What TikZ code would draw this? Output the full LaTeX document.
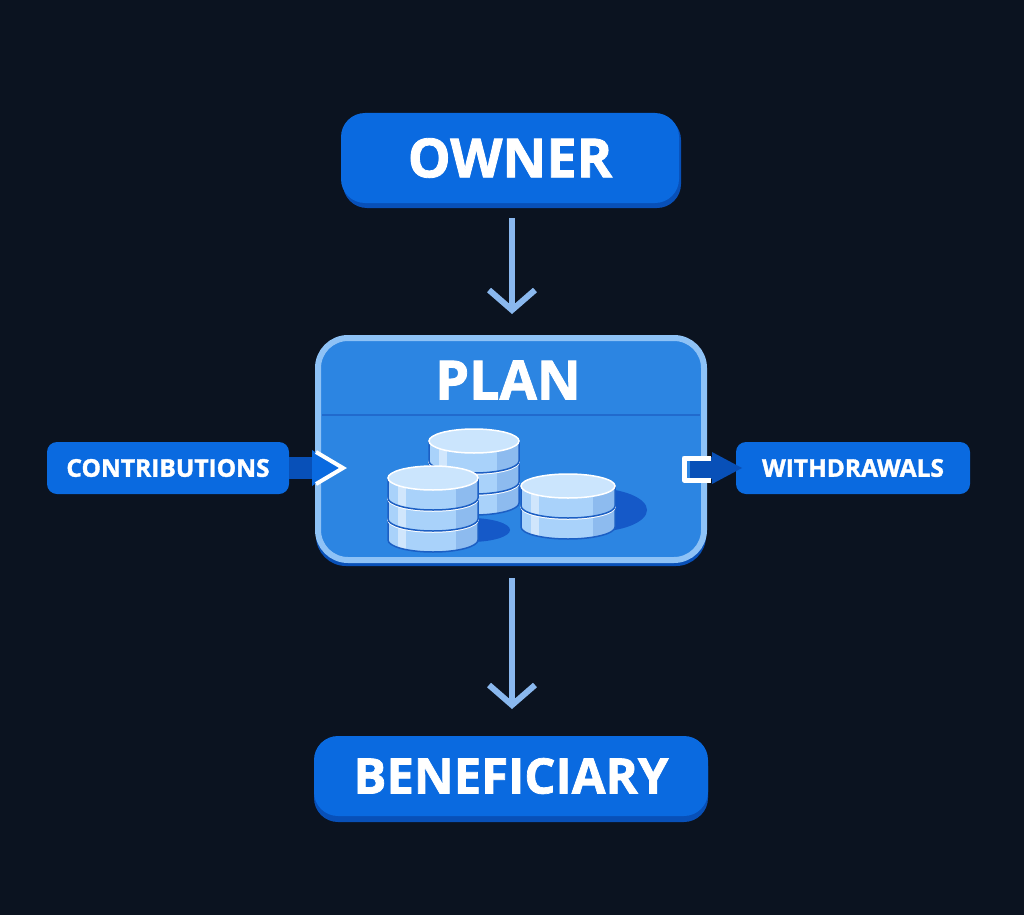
\documentclass[tikz,border=0pt]{standalone}
\usepackage{fontspec}
\setmainfont{Open Sans}[BoldFeatures={FakeBold=1.5}]
\usetikzlibrary{arrows.meta}
\definecolor{bg}{HTML}{0B1320}
\definecolor{boxblue}{HTML}{0A6AE0}
\definecolor{boxdark}{HTML}{0850B8}
\definecolor{planfill}{HTML}{2C85E2}
\definecolor{planedge}{HTML}{8EC2F6}
\definecolor{arrowlight}{HTML}{8AB8EE}
\definecolor{coinside}{HTML}{A9D2FA}
\definecolor{cointop}{HTML}{CBE5FD}
\definecolor{coinline}{HTML}{1C5FC4}
\definecolor{shadowblue}{HTML}{1559C8}
\tikzset{
 lbl/.style={rounded corners=#1, fill=boxblue, draw=none, text=white, font=\bfseries},
 flow/.style={draw=arrowlight, line width=6pt, -{Straight Barb[length=20pt,width=46pt,line width=6pt]}},
}
\newcommand\coinstack[4]{% cx, ytop, layers, rx
 \foreach \k in {#3,...,1}{
  \pgfmathsetmacro\yt{#2+(\k-1)*21}
  \begin{scope}
  \path[clip] (#1-#4,\yt) -- (#1-#4,\yt+20) arc[start angle=180,end angle=0,x radius=#4,y radius=12] -- (#1+#4,\yt) -- cycle;
  \fill[coinside] (#1-#4,\yt-1) rectangle (#1+#4,\yt+33);
  \fill[white!45!coinside] (#1-#4+10,\yt) rectangle (#1-#4+18,\yt+33);
  \fill[coinside!80!coinline] (#1+#4-22,\yt) rectangle (#1+#4,\yt+33);
  \end{scope}
  \draw[coinline,line width=1.5pt] (#1-#4,\yt) -- (#1-#4,\yt+20) arc[start angle=180,end angle=0,x radius=#4,y radius=12] -- (#1+#4,\yt);
  \fill[cointop,draw=white,line width=1.5pt] (#1,\yt) ellipse[x radius=#4,y radius=12];
 }}
\begin{document}
\begin{tikzpicture}[x=1pt,y=-1pt]
\fill[bg] (0,0) rectangle (1024,915);
\useasboundingbox (0,0) rectangle (1024,915);
% owner
\fill[boxdark,rounded corners=24] (343,116) rectangle (681,208);
\node[lbl=24, minimum width=338pt, minimum height=90pt, font=\bfseries\fontsize{54}{56}\selectfont] (owner) at (510,158) {OWNER};
% beneficiary
\fill[boxdark,rounded corners=24] (314,742) rectangle (708,822);
\node[lbl=24, minimum width=394pt, minimum height=80pt, font=\bfseries\fontsize{49}{51}\selectfont] (ben) at (511,776) {BENEFICIARY};
% plan
\fill[boxdark,rounded corners=30] (316,345) rectangle (706,566);
\node[rounded corners=30, fill=planfill, draw=planedge, line width=6pt, minimum width=386pt, minimum height=222pt] (plan) at (511,449) {};
\node[text=white, font=\bfseries\fontsize{54}{56}\selectfont] (plantitle) at (508,380) {PLAN};
\draw[coinline!70!planfill, line width=1.5pt] (322,415) -- (700,415);
% coins
\fill[shadowblue] (592,510) ellipse[x radius=55,y radius=22];
\coinstack{474}{441}{3}{45}
\coinstack{568}{486}{2}{47}
\fill[shadowblue] (470,530) ellipse[x radius=40,y radius=12];
\coinstack{433}{478}{3}{45}
% side labels
\node[lbl=10, minimum width=242pt, minimum height=52pt, font=\bfseries\fontsize{24.5}{26}\selectfont] (contrib) at (168,468) {CONTRIBUTIONS};
\node[lbl=10, minimum width=234pt, minimum height=52pt, font=\bfseries\fontsize{24.5}{26}\selectfont] (withd) at (853,468) {WITHDRAWALS};
% contribution arrow
\fill[boxdark] (contrib.east) ++(0,-11) rectangle (316,479);
\fill[boxblue] (312,450) -- (340,468) -- (312,486) -- cycle;
\draw[white, line width=4pt, line join=miter] (316,452) -- (343,468) -- (316,484);
% withdrawal arrow
\fill[boxdark] (690,457) rectangle (720,479);
\fill[boxdark] (712,452) -- (742,468) -- (712,484) -- cycle;
\draw[white, line width=5pt, line join=round] (711,458) -- (684,458) -- (684,480) -- (711,480);
% flows
\coordinate (a1) at (512,218);
\coordinate (a2) at (512,314);
\coordinate (b1) at (512,578);
\coordinate (b2) at (512,709);
\draw[flow] (a1) -- (a2);
\draw[flow] (b1) -- (b2);
\end{tikzpicture}
\end{document}
